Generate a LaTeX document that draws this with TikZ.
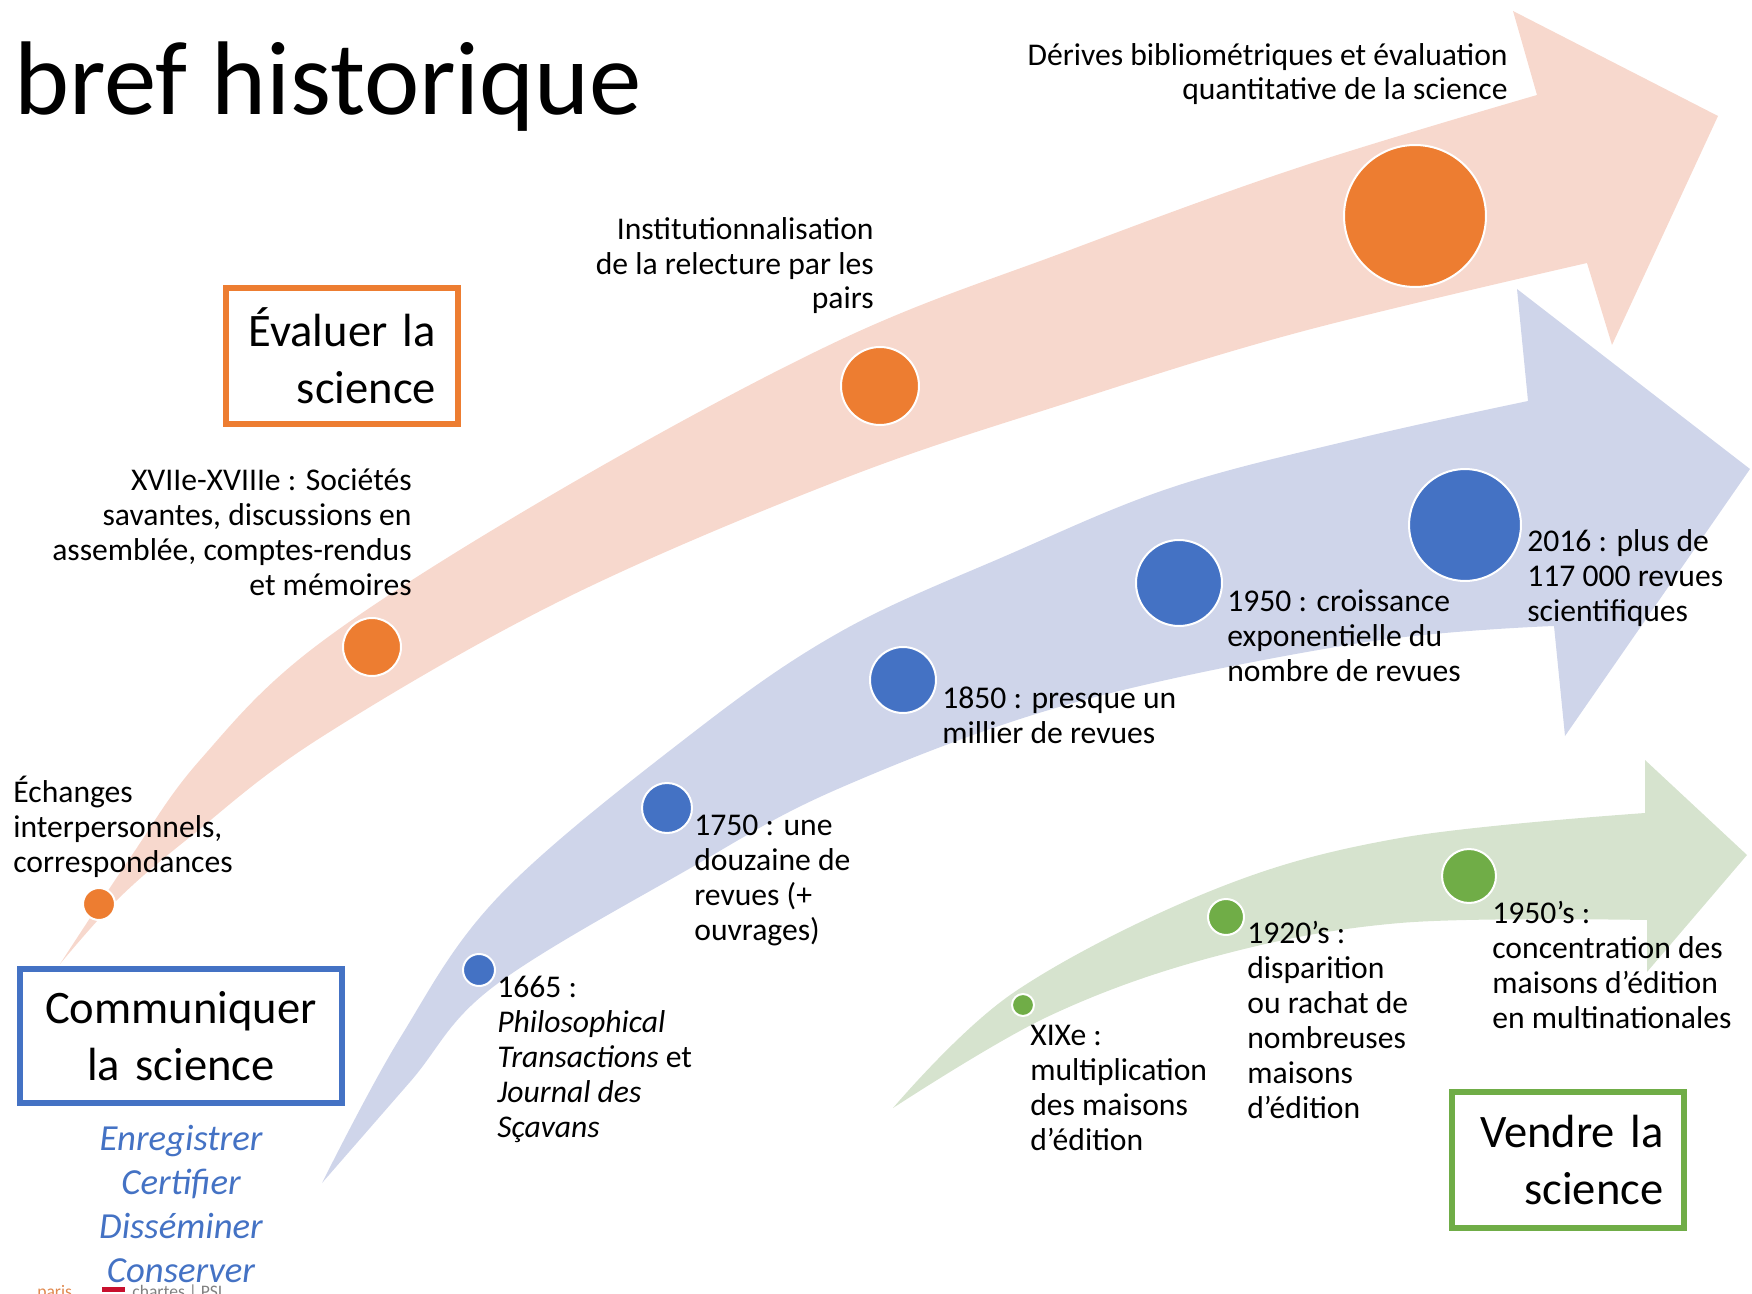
\documentclass[tikz,border=0pt]{standalone}
\usepackage{fontspec}
\setmainfont{Carlito}
\definecolor{pinkfill}{RGB}{247,216,205}
\definecolor{bluefill}{RGB}{207,213,234}
\definecolor{greenfill}{RGB}{214,227,206}
\definecolor{orangec}{HTML}{ED7D31}
\definecolor{bluec}{HTML}{4472C4}
\definecolor{greenc}{HTML}{70AD47}
\definecolor{logoorange}{HTML}{E0894F}
\definecolor{logored}{HTML}{C8102E}

\begin{document}
\begin{tikzpicture}[x=0.02cm, y=-0.02cm,
  lbl/.style={inner sep=0pt, font=\fontsize{18}{19.9}\selectfont},
  lblr/.style={lbl, align=right, anchor=base east},
  lbll/.style={lbl, align=left, anchor=base west},
  event/.style={circle, draw=white, line width=0.04cm, inner sep=0pt},
  frame/.style={draw, line width=0.12cm, align=right, inner sep=0pt, font=\fontsize{26.5}{32.4}\selectfont}]
\useasboundingbox (0,0) rectangle (1752,1294);

\fill[pinkfill] plot[smooth, tension=0.6] coordinates {(60,964) (130,858) (200,760) (320,643) (560,490) (840,340) (1070,250) (1300,167) (1537,95)}
  -- (1513,11) -- (1718,116) -- (1612,345)
  -- plot[smooth, tension=0.6] coordinates {(1587,263) (1300,332) (1070,402) (840,480) (562,600) (320,738) (190,837) (117,900) (60,964)} -- cycle;
\fill[bluefill] plot[smooth, tension=0.6] coordinates {(322,1183) (400,1038) (500,895) (690,735) (840,632) (1010,554) (1173,487) (1360,438) (1528,401)}
  -- (1517,289) -- (1750,469) -- (1565,736)
  -- plot[smooth, tension=0.6] coordinates {(1554,626) (1360,643) (1073,703) (840,788) (687,870) (493,987) (410,1082) (322,1183)} -- cycle;
\fill[greenfill] plot[smooth, tension=0.6] coordinates {(893,1108) (1013,993) (1213,890) (1400,838) (1645,813)}
  -- (1645,760) -- (1747,855) -- (1647,972)
  -- plot[smooth, tension=0.6] coordinates {(1647,920) (1400,923) (1213,957) (1047,1017) (893,1108)} -- cycle;

\foreach \n/\p/\s in {1/{(99,904)}/0.64, 2/{(372,647)}/1.16, 3/{(880,386)}/1.56, 4/{(1415,216)}/2.84}
  \node[event, fill=orangec, minimum size=\s cm] (orange\n) at \p {};
\foreach \n/\p/\s in {1/{(479,970)}/0.64, 2/{(667,808)}/1.0, 3/{(903,680)}/1.32, 4/{(1179,583)}/1.72, 5/{(1465,525)}/2.24}
  \node[event, fill=bluec, minimum size=\s cm] (blue\n) at \p {};
\foreach \n/\p/\s in {1/{(1023,1005)}/0.44, 2/{(1226,917)}/0.72, 3/{(1469,876)}/1.08}
  \node[event, fill=greenc, minimum size=\s cm] (green\n) at \p {};

\node[inner sep=0pt, anchor=base west, font=\fontsize{59.6}{70}\selectfont] (titre) at (14,115) {bref historique};

\node[lbll] (echanges) at (13,872) {Échanges\\interpersonnels,\\correspondances};
\node[lblr] (societes) at (412,595) {XVIIe-XVIIIe : Sociétés\\savantes, discussions en\\assemblée, comptes-rendus\\et mémoires};
\node[lblr] (pairs) at (874,309) {Institutionnalisation\\de la relecture par les\\pairs};
\node[lblr] (derives) at (1508,100) {Dérives bibliométriques et évaluation\\quantitative de la science};

\node[lbll] (an1665) at (497,1137) {1665 :\\\textit{Philosophical}\\\textit{Transactions} et\\\textit{Journal des}\\\textit{Sçavans}};
\node[lbll] (an1750) at (694,940) {1750 : une\\douzaine de\\revues (+\\ouvrages)};
\node[lbll] (an1850) at (942,743) {1850 : presque un\\millier de revues};
\node[lbll] (an1950) at (1227,681) {1950 : croissance\\exponentielle du\\nombre de revues};
\node[lbll] (an2016) at (1527,621) {2016 : plus de\\117 000 revues\\scientifiques};

\node[lbll] (xixe) at (1030,1150) {XIXe :\\multiplication\\des maisons\\d’édition};
\node[lbll] (an1920s) at (1247,1118) {1920’s :\\disparition\\ou rachat de\\nombreuses\\maisons\\d’édition};
\node[lbll] (an1950s) at (1492,1028) {1950’s :\\concentration des\\maisons d’édition\\en multinationales};

\node[frame, draw=orangec, minimum width=4.64cm, minimum height=2.72cm, text width=3.76cm] (evaluer) at (342,356) {Évaluer la\\science};
\node[frame, draw=bluec, align=center, minimum width=6.44cm, minimum height=2.68cm, text width=6cm] (communiquer) at (181,1036) {Communiquer\\la science};
\node[frame, draw=greenc, minimum width=4.66cm, minimum height=2.74cm, text width=3.82cm] (vendre) at (1568,1160) {Vendre la\\science};

\node[inner sep=0pt, anchor=base west, font=\fontsize{10}{10}\selectfont, text=logoorange] (paris) at (37,1297) {paris};
\fill[logored] (102,1287) rectangle (125,1292);
\node[inner sep=0pt, anchor=base west, font=\fontsize{10}{10}\selectfont, text=gray] (chartes) at (132,1297) {chartes | PSL};
\node[lbl, font=\itshape\fontsize{20.9}{25}\selectfont, text=bluec, align=center, anchor=base] (roles) at (181,1282) {Enregistrer\\Certifier\\Disséminer\\Conserver};
\end{tikzpicture}
\end{document}
